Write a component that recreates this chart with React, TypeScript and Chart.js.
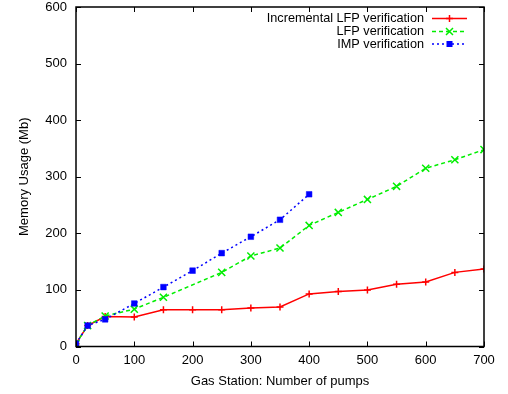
import React, { useEffect, useRef } from "react";
import { Chart, registerables } from "chart.js";

Chart.register(...registerables);

const incX = [0, 20, 50, 100, 150, 200, 250, 300, 350, 400, 450, 500, 550, 600, 650, 700];
const incY = [5, 37, 53, 52, 65, 65, 65, 68, 70, 93, 97, 100, 110, 114, 131, 137];
const lfpX = [0, 20, 50, 100, 150, 250, 300, 350, 400, 450, 500, 550, 600, 650, 700];
const lfpY = [5, 37, 54, 66, 87, 131, 160, 174, 214, 237, 260, 283, 315, 330, 348];
const impX = [0, 20, 50, 100, 150, 200, 250, 300, 350, 400];
const impY = [5, 37, 48, 76, 105, 134, 165, 194, 224, 269];
const seriesNames = ["Incremental LFP verification", "LFP verification", "IMP verification"];
const xTicks = [0, 100, 200, 300, 400, 500, 600, 700];
const yTicks = [0, 100, 200, 300, 400, 500, 600];

const FONT = "'Liberation Sans', Arial, sans-serif";
const COLORS = ["#ff0000", "#00ee00", "#0000ff"];
const DASHES = [[], [4, 3], [2, 3]];

function drawMarker(ctx: CanvasRenderingContext2D, kind: number, x: number, y: number, color: string) {
  ctx.save();
  ctx.strokeStyle = color;
  ctx.fillStyle = color;
  ctx.lineWidth = 1.5;
  ctx.setLineDash([]);
  ctx.beginPath();
  if (kind === 0) {
    ctx.moveTo(x - 3.5, y); ctx.lineTo(x + 3.5, y);
    ctx.moveTo(x, y - 3.5); ctx.lineTo(x, y + 3.5);
    ctx.stroke();
  } else if (kind === 1) {
    ctx.moveTo(x - 3.5, y - 3.5); ctx.lineTo(x + 3.5, y + 3.5);
    ctx.moveTo(x - 3.5, y + 3.5); ctx.lineTo(x + 3.5, y - 3.5);
    ctx.stroke();
  } else {
    ctx.fillRect(x - 3, y - 3, 6, 6);
  }
  ctx.restore();
}

const framePlugin = {
  id: "frame",
  afterDatasetsDraw(chart: any) {
    const { ctx, chartArea: a, scales } = chart;
    ctx.save();
    ctx.strokeStyle = "#000";
    ctx.lineWidth = 1.5;
    ctx.setLineDash([]);
    ctx.strokeRect(a.left, a.top, a.right - a.left, a.bottom - a.top);
    ctx.lineWidth = 1;
    ctx.beginPath();
    const tl = 5;
    for (const v of xTicks) {
      const px = Math.round(scales.x.getPixelForValue(v)) + 0.5;
      ctx.moveTo(px, a.bottom); ctx.lineTo(px, a.bottom - tl);
      ctx.moveTo(px, a.top); ctx.lineTo(px, a.top + tl);
    }
    for (const v of yTicks) {
      const py = Math.round(scales.y.getPixelForValue(v)) + 0.5;
      ctx.moveTo(a.left, py); ctx.lineTo(a.left + tl, py);
      ctx.moveTo(a.right, py); ctx.lineTo(a.right - tl, py);
    }
    ctx.stroke();

    // legend
    ctx.font = `12.7px ${FONT}`;
    ctx.textAlign = "right";
    ctx.textBaseline = "middle";
    ctx.fillStyle = "#000";
    const rows = [18.5, 31.5, 44];
    seriesNames.forEach((name, i) => {
      const y = rows[i];
      ctx.fillText(name, 424, y);
      ctx.save();
      ctx.strokeStyle = COLORS[i];
      ctx.lineWidth = 1.5;
      ctx.setLineDash(DASHES[i]);
      ctx.beginPath();
      ctx.moveTo(432, y); ctx.lineTo(467, y);
      ctx.stroke();
      ctx.restore();
      drawMarker(ctx, i, 449.5, y, COLORS[i]);
    });
    ctx.restore();
  },
};

function toPts(xs: number[], ys: number[]) {
  return xs.map((x, i) => ({ x, y: ys[i] }));
}

export default function App() {
  const ref = useRef<HTMLCanvasElement>(null);
  useEffect(() => {
    document.body.style.margin = "0";
    const canvas = ref.current!;
    const styles = ["cross", "crossRot", "rect"];
    const radii = [3.5, 5, 4];
    const borders = [1.5, 1.5, 0.5];
    const orders = [3, 2, 1];
    const data = [toPts(incX, incY), toPts(lfpX, lfpY), toPts(impX, impY)];
    const chart = new Chart(canvas, {
      type: "line",
      data: {
        datasets: data.map((d, i) => ({
          label: seriesNames[i],
          data: d,
          order: orders[i],
          borderColor: COLORS[i],
          backgroundColor: COLORS[i],
          borderWidth: 1.5,
          borderDash: DASHES[i],
          pointStyle: styles[i] as any,
          pointRadius: radii[i],
          pointBorderWidth: borders[i],
          pointBorderColor: COLORS[i],
          pointBackgroundColor: COLORS[i],
          tension: 0,
          fill: false,
        })),
      },
      options: {
        responsive: false,
        animation: false,
        events: [],
        layout: { padding: { top: 7, right: 24, left: 0, bottom: 0 } },
        plugins: { legend: { display: false }, tooltip: { enabled: false } },
        scales: {
          x: {
            type: "linear",
            min: 0,
            max: 700,
            afterBuildTicks: (s: any) => { s.ticks = xTicks.map((v) => ({ value: v })); },
            afterFit: (s: any) => { s.height = 47.5; s.paddingLeft = 0; s.paddingRight = 0; },
            grid: { display: false, drawTicks: false },
            border: { display: false },
            ticks: { color: "#000", font: { family: FONT, size: 13 }, padding: 6, maxRotation: 0 },
            title: {
              display: true,
              text: "Gas Station: Number of pumps",
              color: "#000",
              font: { family: FONT, size: 13 },
              padding: { top: 0, bottom: 5 },
            },
          },
          y: {
            type: "linear",
            min: 0,
            max: 600,
            afterBuildTicks: (s: any) => { s.ticks = yTicks.map((v) => ({ value: v })); },
            afterFit: (s: any) => { s.width = 76; s.paddingTop = 0; s.paddingBottom = 0; },
            grid: { display: false, drawTicks: false },
            border: { display: false },
            ticks: { color: "#000", font: { family: FONT, size: 13 }, padding: 9 },
            title: {
              display: true,
              text: "Memory Usage (Mb)",
              color: "#000",
              font: { family: FONT, size: 13 },
              padding: { top: 17, bottom: 0 },
            },
          },
        },
      },
      plugins: [framePlugin],
    });
    return () => chart.destroy();
  }, []);
  return <canvas ref={ref} width={508} height={394} style={{ display: "block" }} />;
}
